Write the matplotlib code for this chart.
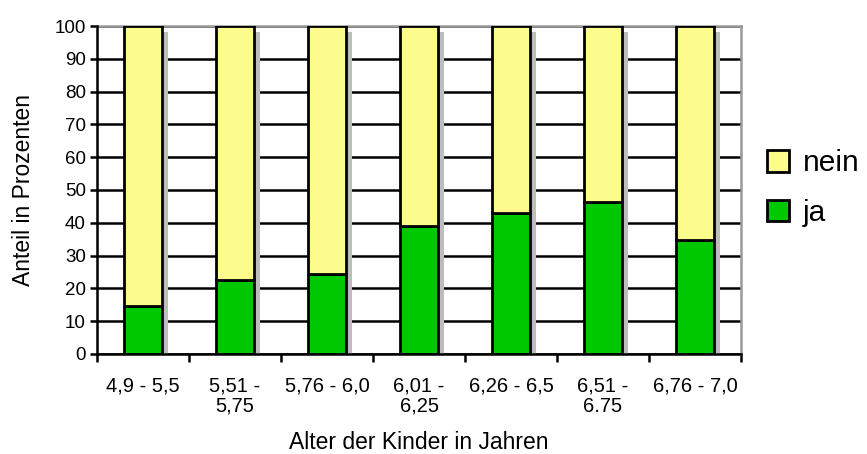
import numpy as np
import matplotlib.pyplot as plt
import matplotlib.transforms as mtransforms

plt.rcParams['font.family'] = ['Liberation Sans', 'DejaVu Sans']

kategorien = ['4,9 - 5,5', '5,51 -\n5,75', '5,76 - 6,0', '6,01 -\n6,25',
              '6,26 - 6,5', '6,51 -\n6.75', '6,76 - 7,0']
ja = [14.5, 22.6, 24.3, 38.9, 43.1, 46.3, 34.9]
nein = [100 - v for v in ja]

fig = plt.figure(figsize=(8.67, 4.54), dpi=100)
ax = fig.add_axes([0.1119, 0.2203, 0.7428, 0.7224])

x = np.arange(len(kategorien))
breite = 0.41

# grauer Schatten hinter jeder Säule, leicht nach rechts unten versetzt
gesamt = [a + b for a, b in zip(ja, nein)]
versatz = mtransforms.offset_copy(ax.transData, fig=fig, x=6, y=-6, units='dots')
ax.bar(x, gesamt, width=breite, color='#bdbdbd', edgecolor='none', zorder=2,
       transform=versatz)

b1 = ax.bar(x, ja, width=breite, color='#00c800', edgecolor='black', linewidth=2,
            label='ja', zorder=3)
b2 = ax.bar(x, nein, bottom=ja, width=breite, color='#fcfc8c', edgecolor='black',
            linewidth=2, label='nein', zorder=3)

ax.set_xlim(-0.5, len(kategorien) - 0.5)
ax.set_ylim(0, 100)
ax.set_yticks(range(0, 101, 10))
ax.yaxis.grid(True, color='black', linewidth=1.8, zorder=1)
ax.set_axisbelow(True)

ax.set_xticks(x)
ax.set_xticklabels(kategorien, fontsize=14.5, linespacing=1.1)
ax.set_xticks(np.arange(-0.5, len(kategorien)), minor=True)
ax.tick_params(axis='x', which='major', length=0, pad=16)
ax.tick_params(axis='x', which='minor', length=6, width=1.8, direction='out')
ax.tick_params(axis='y', length=5, width=1.8, labelsize=13.5, pad=3)

for s in ['left', 'bottom']:
    ax.spines[s].set_linewidth(1.8)
    ax.spines[s].set_zorder(4)
for s in ['top', 'right']:
    ax.spines[s].set_color('#999999')
    ax.spines[s].set_linewidth(1.8)

ax.set_xlabel('Alter der Kinder in Jahren', fontsize=16.5, labelpad=11)
ax.set_ylabel('Anteil in Prozenten', fontsize=16.5, labelpad=14)

ax.legend([b2, b1], ['nein', 'ja'], loc='center left', bbox_to_anchor=(0.999, 0.506),
          frameon=False, fontsize=21.5, handlelength=0.74, handleheight=0.74,
          handletextpad=0.45, labelspacing=0.72)

fig.savefig('out.png', dpi=100)
